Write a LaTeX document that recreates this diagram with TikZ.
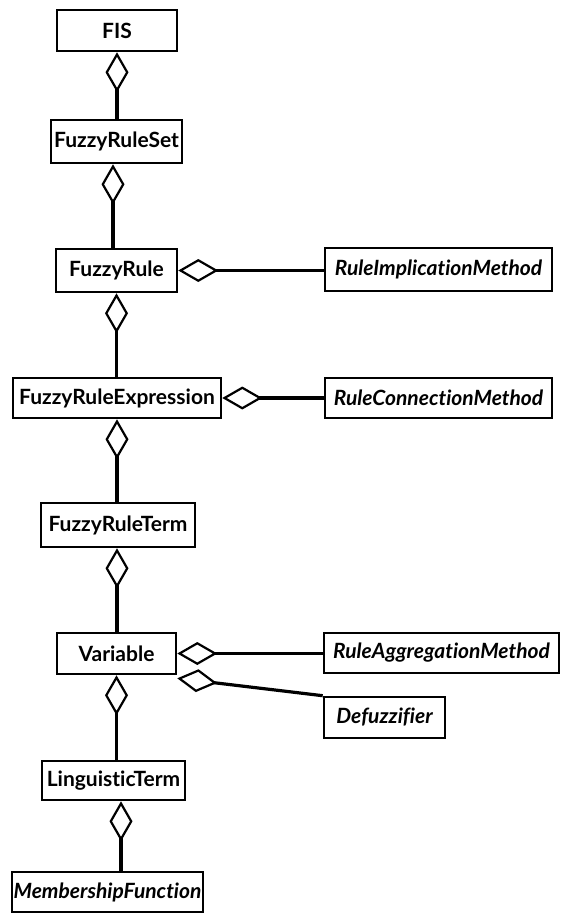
\documentclass[tikz,border=0pt]{standalone}
\usepackage{fontspec}
\setmainfont{Lato}[Ligatures={NoCommon,NoDiscretionary,NoRare}]
\usetikzlibrary{arrows.meta}
\tikzset{
  cls/.style={draw=black, line width=2.6pt, fill=white, inner sep=0pt,
    font=\fontsize{21}{24}\selectfont\bfseries, anchor=center},
  abs/.style={cls, font=\fontsize{21}{24}\selectfont\bfseries\itshape},
  agg/.style={line width=3.2pt, {Diamond[open, length=40pt, width=23pt, line width=2.2pt]}-},
}
\begin{document}
\begin{tikzpicture}[x=1pt, y=-1pt]
\useasboundingbox (0,0) rectangle (563,913);
\node[cls, minimum width=120pt, minimum height=41pt] (FIS) at (117,30.5) {FIS};
\node[cls, minimum width=131pt, minimum height=43pt] (FRS) at (116.5,141.5) {FuzzyRuleSet};
\node[cls, minimum width=121pt, minimum height=43pt] (FR) at (116.5,270.5) {FuzzyRule};
\node[abs, minimum width=227pt, minimum height=43pt] (RIM) at (438.5,269.5) {RuleImplicationMethod};
\node[cls, minimum width=208pt, minimum height=40pt] (FRE) at (117,398) {FuzzyRuleExpression};
\node[abs, minimum width=227pt, minimum height=40pt] (RCM) at (438.5,398) {RuleConnectionMethod};
\node[cls, minimum width=154pt, minimum height=44pt] (FRT) at (118,525) {FuzzyRuleTerm};
\node[cls, minimum width=119pt, minimum height=41pt] (Var) at (116.5,653.5) {Variable};
\node[abs, minimum width=235pt, minimum height=40pt] (RAM) at (441.5,653) {RuleAggregationMethod};
\node[abs, minimum width=121pt, minimum height=41pt] (Def) at (384.5,717.5) {Defuzzifier};
\node[cls, minimum width=143pt, minimum height=39pt] (LT) at (113.5,780.5) {LinguisticTerm};
\node[abs, minimum width=191pt, minimum height=40pt] (MF) at (107.5,892) {MembershipFunction};

\draw[agg] (FIS.south) -- (FIS.south |- FRS.north);
\draw[agg] ([xshift=-3.5pt]FRS.south) -- ([xshift=-3.5pt]FRS.south |- FR.north);
\draw[agg] (FR.south) -- (FR.south |- FRE.north);
\draw[agg] (FRE.south) -- (FRE.south |- FRT.north);
\draw[agg] ([xshift=-1pt]FRT.south) -- ([xshift=-1pt]FRT.south |- Var.north);
\draw[agg] (Var.south) -- (Var.south |- LT.north);
\draw[agg] ([xshift=7.5pt]LT.south) -- ([xshift=7.5pt]LT.south |- MF.north);
\draw[agg] (FR.east) -- (FR.east -| RIM.west);
\draw[agg] (FRE.east) -- (FRE.east -| RCM.west);
\draw[agg] (Var.east) -- (Var.east -| RAM.west);
\draw[agg] ([yshift=-3pt]Var.south east) -- (Def.north west);
\end{tikzpicture}
\end{document}
